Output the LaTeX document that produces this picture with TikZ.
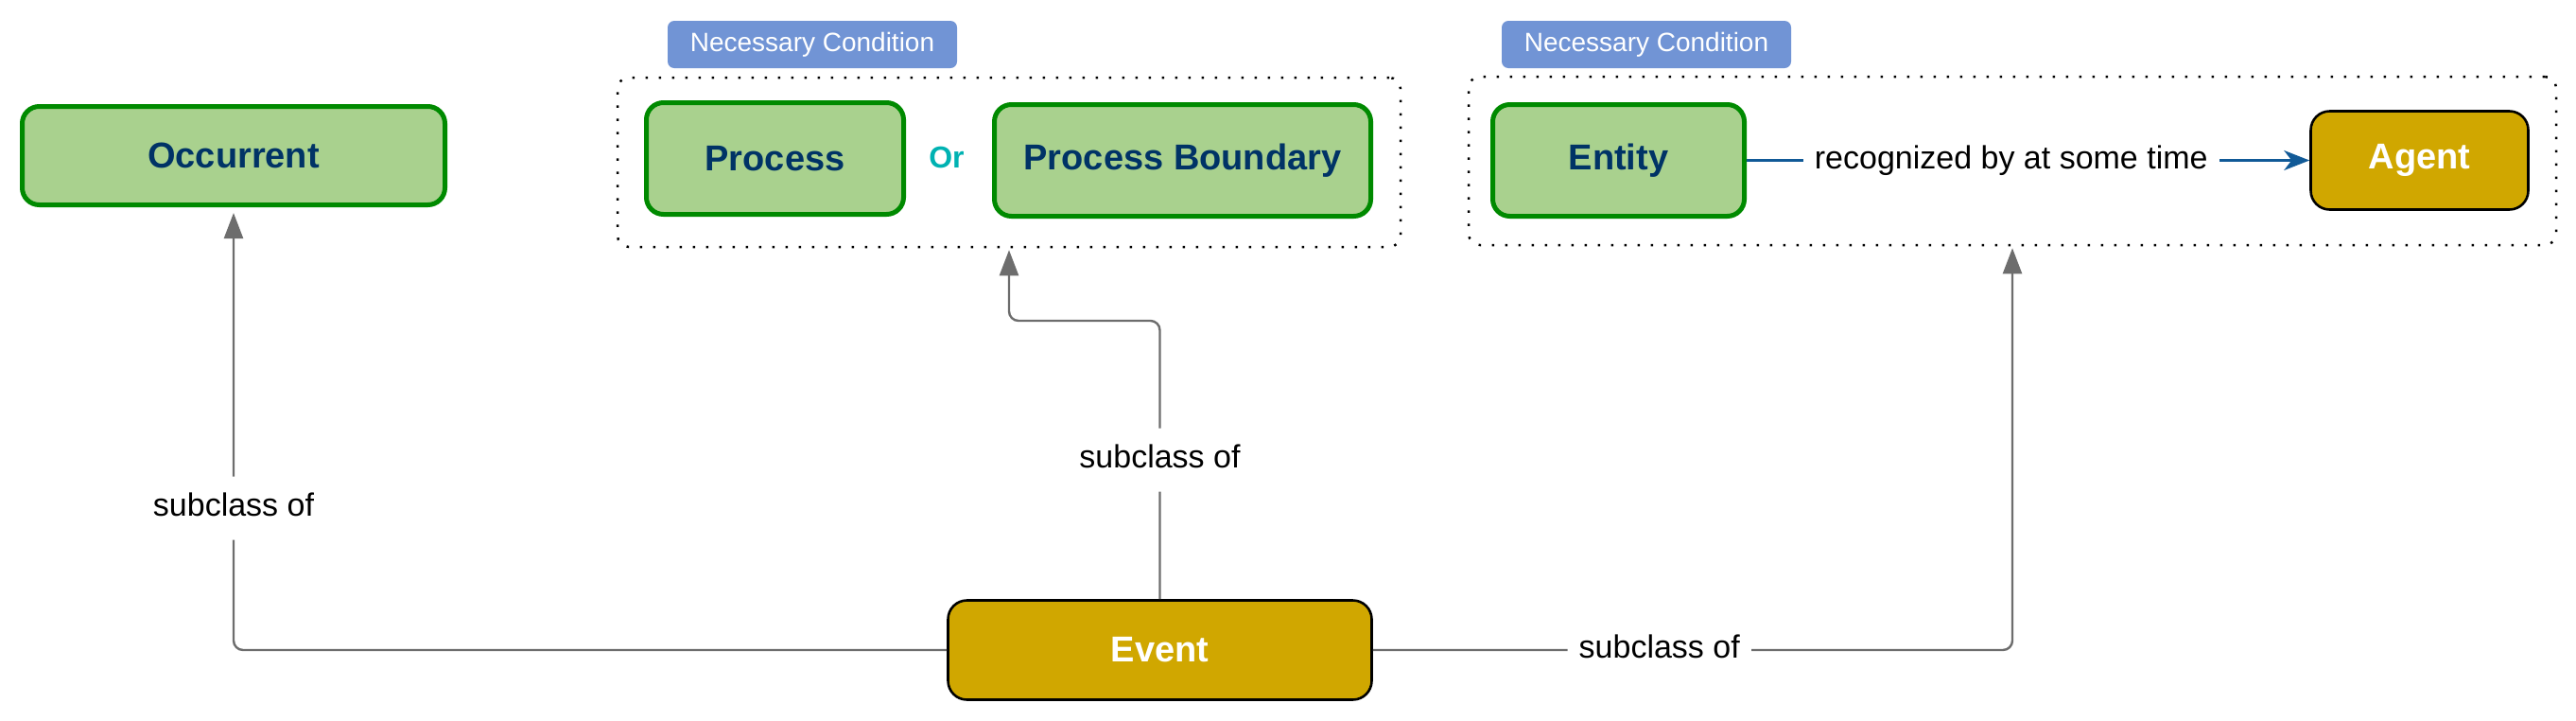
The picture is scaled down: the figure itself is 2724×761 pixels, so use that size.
\documentclass[tikz,border=0pt]{standalone}
\usepackage{fontspec}
\setmainfont{Liberation Sans}
\usepackage{tikz}
\usetikzlibrary{arrows.meta}
\definecolor{clsfill}{HTML}{A9D18E}
\definecolor{clsline}{HTML}{008A00}
\definecolor{clstext}{HTML}{003366}
\definecolor{goldfill}{HTML}{D0A700}
\definecolor{ncfill}{HTML}{7194D5}
\definecolor{orteal}{HTML}{00B2B2}
\definecolor{subgray}{HTML}{6D6D6D}
\definecolor{relblue}{HTML}{115A97}
\tikzset{
    cls/.style={draw=clsline, fill=clsfill, line width=2.5pt, rounded corners=9pt, inner sep=0pt, text=clstext, font=\fontsize{19}{23}\selectfont\bfseries},
    agt/.style={draw=black, fill=goldfill, line width=1.3pt, rounded corners=10pt, inner sep=0pt, text=white, font=\fontsize{19}{23}\selectfont\bfseries},
    ncbox/.style={fill=ncfill, rounded corners=3.5pt, minimum width=153pt, minimum height=25pt, inner sep=0pt, text=white, font=\fontsize{14}{17}\selectfont},
    grp/.style={draw, line width=1.25pt, dash pattern=on 1.25pt off 5.75pt, rounded corners=6pt},
    orlbl/.style={text=orteal, font=\fontsize{16}{19}\selectfont\bfseries},
    lbl/.style={fill=white, inner xsep=6pt, inner ysep=9pt, text height=12pt, text depth=3.5pt, font=\fontsize{17}{20}\selectfont},
    subof/.style={draw=subgray, line width=1.2pt, rounded corners=5pt, -{Triangle[length=13.5pt,width=10pt]}},
    relof/.style={draw=relblue, line width=1.2pt, -{Stealth[length=13.5pt,width=10.5pt,inset=4pt]}}
}
\begin{document}
\begin{tikzpicture}[x=0.5pt,y=-0.5pt]
\useasboundingbox (0,0) rectangle (2724,761);
\node[grp, minimum width=414pt, minimum height=89.5pt] (grpa) at (1067,171.5) {};
\node[grp, minimum width=575pt, minimum height=89pt] (grpb) at (2128,170) {};
\foreach \x/\p in {859/nca, 1741/ncb}{
    \node[ncbox] (\p) at (\x,47) {Necessary Condition};
}
\foreach \x/\y/\w/\h/\p/\t in {247/164.5/223.5/52/occ/Occurrent, 819.5/167.5/136/59/proc/Process, 1250.5/169.5/199/59/pbnd/Process Boundary, 1711.5/169.5/133/59/ent/Entity}{
    \node[cls, minimum width=\w pt, minimum height=\h pt] (\p) at (\x,\y) {\t};
}
\node[orlbl] (or) at (1001,166) {Or};
\node[agt, minimum width=115pt, minimum height=52pt] (agt) at (2558.5,169.5) {Agent};
\node[agt, minimum width=224pt, minimum height=52.5pt] (evt) at (1226.5,687) {Event};
\coordinate (bend) at (1226,339);
\draw[relof] (ent) -- node[lbl, pos=0.47] {recognized by at some time} (agt);
\draw[subof, shorten >=3pt] (evt.west) -| node[lbl, pos=0.66] {subclass of} (occ.south);
\draw[subof, shorten >=1pt] (evt.north) -- node[lbl] {subclass of} (evt.north |- bend) -| (grpa.south);
\draw[subof, shorten >=1pt] (evt.east) -| node[lbl, pos=0.224] {subclass of} (grpb.south);
\end{tikzpicture}
\end{document}
